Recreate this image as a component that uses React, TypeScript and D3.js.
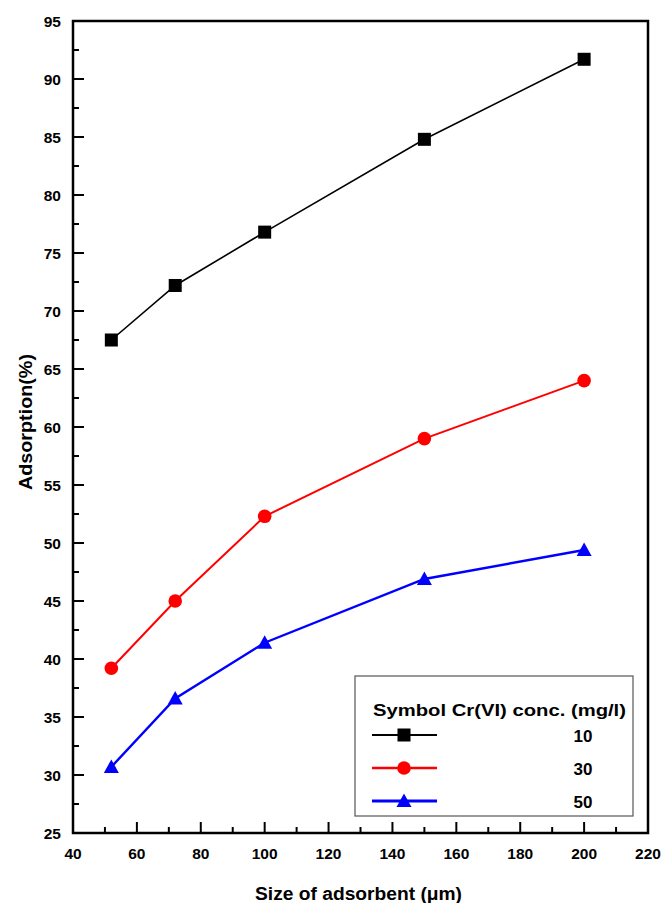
import React, { useEffect, useRef } from "react";
import * as d3 from "d3";

const sizes = [52, 72, 100, 150, 200];
const conc10 = [67.5, 72.2, 76.8, 84.8, 91.7];
const conc30 = [39.2, 45.0, 52.3, 59.0, 64.0];
const conc50 = [30.7, 36.6, 41.4, 46.9, 49.4];
const seriesLabels = ["10", "30", "50"];
const seriesColors = ["#000000", "#ff0000", "#0000ff"];
const seriesSymbols = ["square", "circle", "triangle"];
const xTicks = [40, 60, 80, 100, 120, 140, 160, 180, 200, 220];
const yTicks = [25, 30, 35, 40, 45, 50, 55, 60, 65, 70, 75, 80, 85, 90, 95];

const W = 670;
const H = 903;
const FONT = "'Liberation Sans', Arial, Helvetica, sans-serif";

export default function App() {
  const ref = useRef<SVGSVGElement | null>(null);

  useEffect(() => {
    const svg = d3.select(ref.current);
    svg.selectAll("*").remove();

    const left = 73, right = 648, top = 21, bottom = 833;
    const x = d3.scaleLinear().domain([40, 220]).range([left, right]);
    const y = d3.scaleLinear().domain([25, 95]).range([bottom, top]);

    const g = svg.append("g");

    const yMinor = d3.range(25, 95.01, 2.5);
    g.selectAll(".ytick")
      .data(yMinor)
      .enter()
      .append("line")
      .attr("x1", left)
      .attr("x2", (d) => left + (d % 5 === 0 ? 11 : 6))
      .attr("y1", (d) => y(d))
      .attr("y2", (d) => y(d))
      .attr("stroke", "#000")
      .attr("stroke-width", 2);

    const xMinor = d3.range(40, 220.01, 10);
    g.selectAll(".xtick")
      .data(xMinor)
      .enter()
      .append("line")
      .attr("y1", bottom)
      .attr("y2", (d) => bottom - (d % 20 === 0 ? 11 : 6))
      .attr("x1", (d) => x(d))
      .attr("x2", (d) => x(d))
      .attr("stroke", "#000")
      .attr("stroke-width", 2);

    g.append("rect")
      .attr("x", left)
      .attr("y", top)
      .attr("width", right - left)
      .attr("height", bottom - top)
      .attr("fill", "none")
      .attr("stroke", "#000")
      .attr("stroke-width", 2.5);

    g.selectAll(".ylab")
      .data(yTicks)
      .enter()
      .append("text")
      .attr("x", 61)
      .attr("y", (d) => y(d) + 5.5)
      .attr("text-anchor", "end")
      .attr("font-family", FONT)
      .attr("font-weight", "bold")
      .attr("font-size", 15.5)
      .text((d) => String(d));

    g.selectAll(".xlab")
      .data(xTicks)
      .enter()
      .append("text")
      .attr("x", (d) => x(d))
      .attr("y", 858.5)
      .attr("text-anchor", "middle")
      .attr("font-family", FONT)
      .attr("font-weight", "bold")
      .attr("font-size", 15.5)
      .text((d) => String(d));

    g.append("text")
      .attr("x", 255)
      .attr("y", 900)
      .attr("font-family", FONT)
      .attr("font-weight", "bold")
      .attr("font-size", 18)
      .attr("textLength", 207)
      .attr("lengthAdjust", "spacingAndGlyphs")
      .text("Size of adsorbent (\u03bcm)");

    g.append("text")
      .attr("transform", `translate(32, 422) rotate(-90)`)
      .attr("text-anchor", "middle")
      .attr("font-family", FONT)
      .attr("font-weight", "bold")
      .attr("font-size", 17.5)
      .attr("textLength", 136)
      .attr("lengthAdjust", "spacingAndGlyphs")
      .text("Adsorption(%)");

    const series = [conc10, conc30, conc50];
    const widths = [1.6, 2, 2.4];

    const drawSymbol = (
      sel: any,
      kind: string,
      cx: number,
      cy: number,
      color: string
    ) => {
      if (kind === "square") {
        sel.append("rect")
          .attr("x", cx - 6.5)
          .attr("y", cy - 6.5)
          .attr("width", 13)
          .attr("height", 13)
          .attr("fill", color);
      } else if (kind === "circle") {
        sel.append("circle").attr("cx", cx).attr("cy", cy).attr("r", 6.8).attr("fill", color);
      } else {
        sel.append("path")
          .attr("d", `M${cx},${cy - 7.5} L${cx + 7.5},${cy + 6} L${cx - 7.5},${cy + 6} Z`)
          .attr("fill", color);
      }
    };

    const line = d3
      .line<number>()
      .x((_, i) => x(sizes[i]))
      .y((d) => y(d));

    series.forEach((vals, si) => {
      const sg = g.append("g");
      sg.append("path")
        .attr("d", line(vals) as string)
        .attr("fill", "none")
        .attr("stroke", seriesColors[si])
        .attr("stroke-width", widths[si]);
      vals.forEach((v, i) => {
        drawSymbol(sg, seriesSymbols[si], x(sizes[i]), y(v), seriesColors[si]);
      });
    });

    const lg = g.append("g");
    lg.append("rect")
      .attr("x", 355)
      .attr("y", 676)
      .attr("width", 278)
      .attr("height", 140)
      .attr("fill", "#fff")
      .attr("stroke", "#555")
      .attr("stroke-width", 1.2);
    lg.append("text")
      .attr("x", 373)
      .attr("y", 716)
      .attr("font-family", FONT)
      .attr("font-weight", "bold")
      .attr("font-size", 17)
      .attr("textLength", 253)
      .attr("lengthAdjust", "spacingAndGlyphs")
      .text("Symbol Cr(VI) conc. (mg/l)");
    const rowY = [735, 768, 801];
    seriesLabels.forEach((lab, si) => {
      const ry = rowY[si];
      lg.append("line")
        .attr("x1", 372)
        .attr("x2", 437)
        .attr("y1", ry)
        .attr("y2", ry)
        .attr("stroke", seriesColors[si])
        .attr("stroke-width", widths[si] + 0.4);
      drawSymbol(lg, seriesSymbols[si], 404, ry, seriesColors[si]);
      lg.append("text")
        .attr("x", 583)
        .attr("y", ry + 6.5)
        .attr("text-anchor", "middle")
        .attr("font-family", FONT)
        .attr("font-weight", "bold")
        .attr("font-size", 17)
        .text(lab);
    });
  }, []);

  return (
    <svg
      ref={ref}
      width={W}
      height={H}
      style={{ position: "absolute", left: 0, top: 0, background: "#fff" }}
    />
  );
}
